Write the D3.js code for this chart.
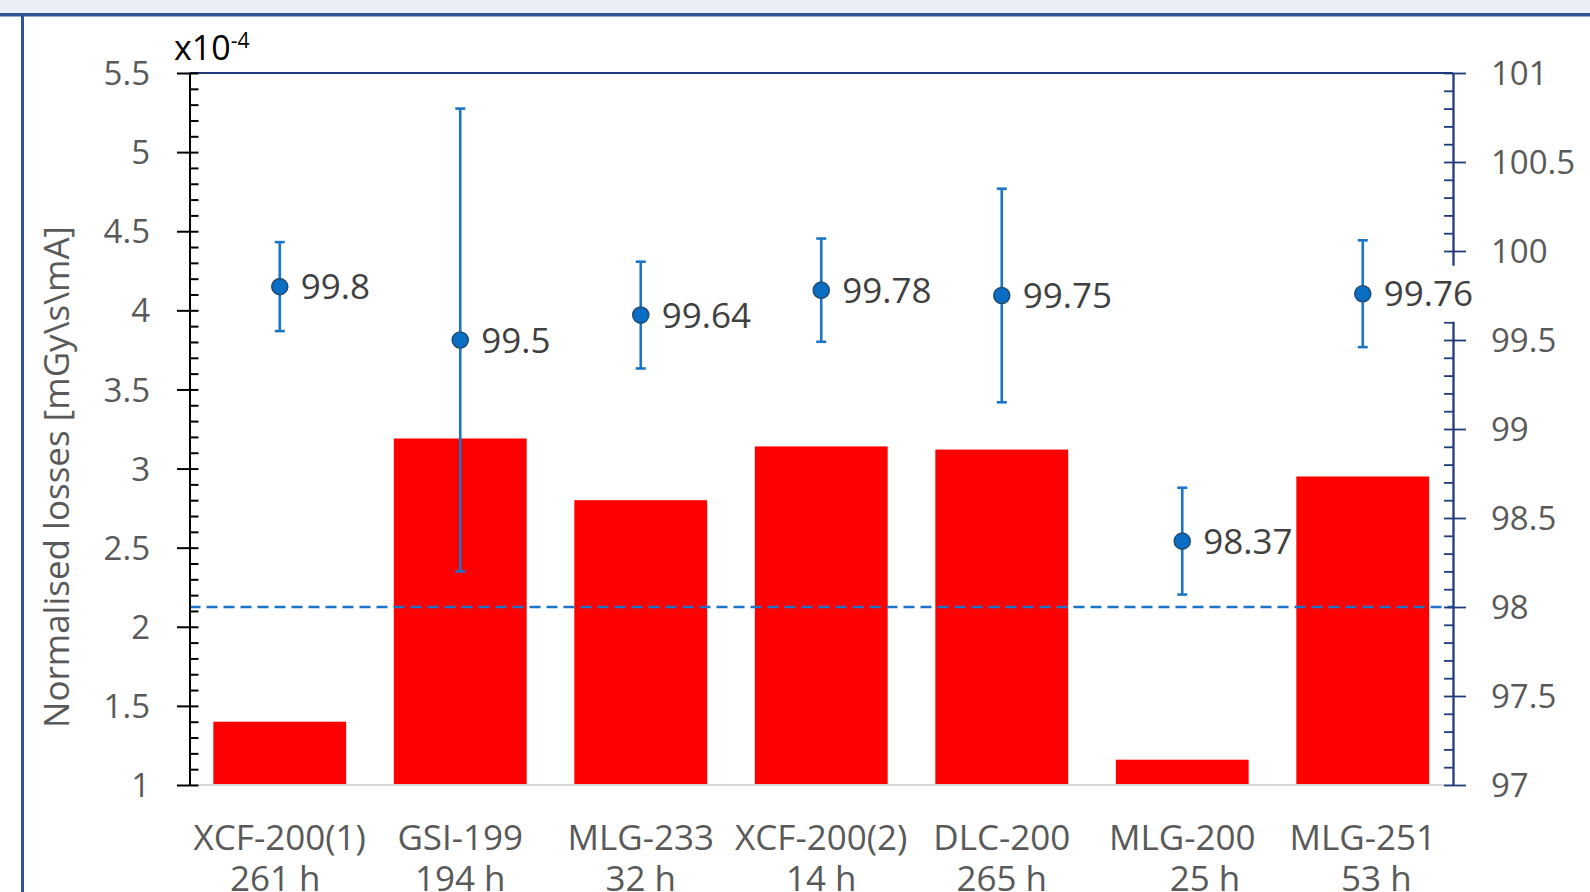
<!DOCTYPE html>
<html><head><meta charset="utf-8">
<script src="https://cdn.jsdelivr.net/npm/d3@7"></script>
<style>body{margin:0;background:#fff;overflow:hidden}</style>
</head><body>
<svg id="c" width="1590" height="892"></svg>
<script>
// ---- data ----
const categories = ["XCF-200(1)", "GSI-199", "MLG-233", "XCF-200(2)", "DLC-200", "MLG-200", "MLG-251"];
const hours = ["261 h\u00a0", "194 h", "32 h", "14 h", "265 h", "\u00a0\u00a0\u00a0\u00a0\u00a025 h", "\u00a0\u00a0\u00a053 h"];
const losses = [1.40, 3.19, 2.80, 3.14, 3.12, 1.16, 2.95];        // x10^-4 mGy\s\mA
const efficiency = [99.8, 99.5, 99.64, 99.78, 99.75, 98.37, 99.76]; // right axis
const efficiencyErr = [0.25, 1.30, 0.30, 0.29, 0.60, 0.30, 0.30];
const thresholdValue = [98];
const leftTicks = [1, 1.5, 2, 2.5, 3, 3.5, 4, 4.5, 5, 5.5];
const rightTicks = [97, 97.5, 98, 98.5, 99, 99.5, 100, 100.5, 101];
const leftTitle = "Normalised losses [mGy\\s\\mA]";

// ---- layout ----
const L = 189.5, R = 1453, T = 73, B = 785;
const FONT = "'Open Sans', sans-serif";
const svg = d3.select("#c");

// slide frame
svg.append("rect").attr("x", 0).attr("y", 0).attr("width", 1590).attr("height", 13).attr("fill", "#e9eef7");
svg.append("rect").attr("x", 0).attr("y", 13).attr("width", 1590).attr("height", 3.5).attr("fill", "#2f5597");
svg.append("rect").attr("x", 21).attr("y", 14).attr("width", 3).attr("height", 892).attr("fill", "#2f5597");

const x = d3.scaleBand().domain(categories).range([L, R]).paddingInner(0.264).paddingOuter(0.132);
const yL = d3.scaleLinear().domain([1, 5.5]).range([B, T]);
const yR = d3.scaleLinear().domain([97, 101]).range([B, T]);
const cx = c => x(c) + x.bandwidth() / 2;

// bars
svg.append("g").selectAll("rect").data(categories).join("rect")
  .attr("x", c => x(c))
  .attr("y", (c, i) => yL(losses[i]))
  .attr("width", x.bandwidth())
  .attr("height", (c, i) => B - yL(losses[i]))
  .attr("fill", "#ff0000");

// baseline
svg.append("line").attr("x1", L).attr("x2", R).attr("y1", B).attr("y2", B)
  .attr("stroke", "#d9d9d9").attr("stroke-width", 2);

// threshold dashed line
svg.append("g").selectAll("line").data(thresholdValue).join("line")
  .attr("x1", L).attr("x2", R).attr("y1", d => yR(d)).attr("y2", d => yR(d))
  .attr("stroke", "#1a75c9").attr("stroke-width", 2.6).attr("stroke-dasharray", "11,6");

// top line
svg.append("line").attr("x1", L).attr("x2", R).attr("y1", T).attr("y2", T)
  .attr("stroke", "#1f3b7a").attr("stroke-width", 2);

function styleAxis(g, color, w) {
  g.select(".domain").attr("stroke", color).attr("stroke-width", w);
  g.selectAll(".tick line").attr("stroke", color).attr("stroke-width", w);
}

// left axis
const minorL = d3.range(10, 56).map(d => d / 10);
const gLm = svg.append("g").attr("transform", `translate(${L},0)`)
  .call(d3.axisRight(yL).tickValues(minorL).tickSize(9).tickSizeOuter(0).tickFormat(""));
styleAxis(gLm, "#000", 2);
const gL = svg.append("g").attr("transform", `translate(${L},0)`)
  .call(d3.axisLeft(yL).tickValues(leftTicks).tickSize(12.5).tickSizeOuter(0).tickPadding(27).tickFormat(d => String(d)));
styleAxis(gL, "#000", 2);
gL.selectAll("text").attr("font-family", FONT).attr("font-size", 33).attr("fill", "#595959").attr("dy", "0.35em");

// right axis
const minorR = d3.range(970, 1011).map(d => d / 10);
const gRm = svg.append("g").attr("transform", `translate(${R},0)`)
  .call(d3.axisLeft(yR).tickValues(minorR).tickSize(9).tickSizeOuter(0).tickFormat(""));
styleAxis(gRm, "#1f3b7a", 1.8);
const gR = svg.append("g").attr("transform", `translate(${R},0)`)
  .call(d3.axisRight(yR).tickValues(rightTicks).tickSize(13).tickSizeOuter(0).tickPadding(25).tickFormat(d => String(d)));
styleAxis(gR, "#1f3b7a", 1.8);
gR.selectAll("text").attr("font-family", FONT).attr("font-size", 33).attr("fill", "#595959").attr("dy", "0.35em");

// multiplier
const mult = svg.append("text").attr("x", 174).attr("y", 60).attr("font-family", FONT).attr("font-size", 34).attr("fill", "#000");
mult.append("tspan").text("x10");
mult.append("tspan").attr("font-size", 21).attr("dy", -12).text("-4");

// category labels
const cat = svg.append("g").attr("font-family", FONT).attr("font-size", 35).attr("fill", "#595959")
  .attr("text-anchor", "middle");
cat.selectAll("text.l1").data(categories).join("text").attr("class", "l1")
  .attr("x", c => cx(c)).attr("y", 850).text(c => c);
cat.selectAll("text.l2").data(categories).join("text").attr("class", "l2")
  .attr("x", c => cx(c)).attr("y", 891).text((c, i) => hours[i]);

// left axis title
svg.append("text").attr("transform", "translate(56,477) rotate(-90)")
  .attr("text-anchor", "middle").attr("dy", "0.36em")
  .attr("font-family", FONT).attr("font-size", 35).attr("fill", "#595959").text(leftTitle);

// error bars
const eb = svg.append("g").attr("stroke", "#1a75c9").attr("stroke-width", 2.6);
categories.forEach((c, i) => {
  const hi = yR(efficiency[i] + efficiencyErr[i]);
  const lo = yR(efficiency[i] - efficiencyErr[i]);
  const px = cx(c);
  eb.append("line").attr("x1", px).attr("x2", px).attr("y1", hi).attr("y2", lo);
  eb.append("line").attr("x1", px - 5).attr("x2", px + 5).attr("y1", hi).attr("y2", hi);
  eb.append("line").attr("x1", px - 5).attr("x2", px + 5).attr("y1", lo).attr("y2", lo);
});

// markers
svg.append("g").selectAll("circle").data(categories).join("circle")
  .attr("cx", c => cx(c)).attr("cy", (c, i) => yR(efficiency[i])).attr("r", 8)
  .attr("fill", "#0a6fc4").attr("stroke", "#1f4e79").attr("stroke-width", 1.6);

// data labels with white background
const lg = svg.append("g");
categories.forEach((c, i) => {
  const g = lg.append("g");
  const t = g.append("text").attr("x", cx(c) + 21).attr("y", yR(efficiency[i])).attr("dy", "0.36em")
    .attr("font-family", FONT).attr("font-size", 35).attr("fill", "#404040").text(String(efficiency[i]));
  const bb = t.node().getBBox();
  g.insert("rect", "text").attr("x", bb.x - 2).attr("y", yR(efficiency[i]) - 28)
    .attr("width", bb.width + 4).attr("height", 56).attr("fill", "#fff");
});
</script>
</body></html>
